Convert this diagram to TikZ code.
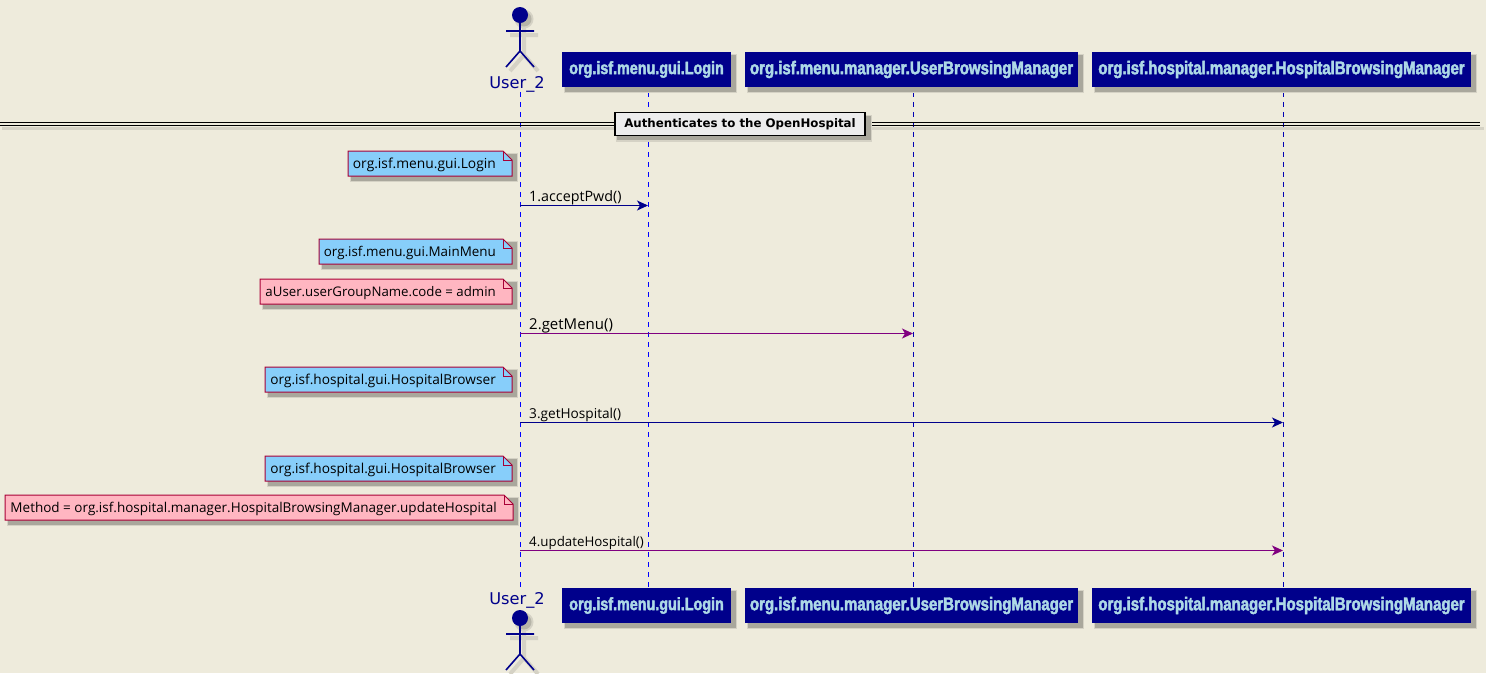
\documentclass[tikz,border=0pt]{standalone}
\usepackage{fontspec}
\setmainfont{DejaVu Sans}
\newfontfamily\headfont[FakeStretch=0.81,FakeBold=2.4]{Liberation Sans Bold}
\newfontfamily\notefont{Open Sans}
\usetikzlibrary{arrows.meta,calc}
\definecolor{bgc}{HTML}{EEEBDC}
\definecolor{navy}{HTML}{00008B}
\definecolor{headtxt}{HTML}{ADD8E6}
\definecolor{noteblue}{HTML}{87CEFA}
\definecolor{notepink}{HTML}{FFB6C1}
\definecolor{noteline}{HTML}{A80036}
\definecolor{shadowc}{HTML}{A9A79C}
\definecolor{shadowl}{HTML}{D5D2C5}
\definecolor{purp}{HTML}{800080}
\definecolor{lifedark}{HTML}{0000B4}
\tikzset{
 x=1pt,y=-1pt,
 partbox/.style={fill=navy,draw=none,minimum height=35pt,inner sep=0pt,text=headtxt,font=\headfont\fontsize{18.5}{18}\selectfont,anchor=center},
 lifeblue/.style={draw=blue,dash pattern=on 5pt off 5pt,line width=.9pt},
 lifedeep/.style={draw=lifedark,dash pattern=on 5pt off 5pt,line width=.9pt},
 msgtxt/.style={anchor=base west,inner sep=0pt,text=black},
 actortxt/.style={font=\fontsize{16.2}{16}\selectfont,text=navy,inner sep=0pt,anchor=base},
 notetxt/.style={inner sep=0pt,anchor=base east,text=black},
 msg/.style={line width=1pt,-{Stealth[length=11pt,width=10pt,inset=3pt]}},
 actorline/.style={draw=navy,line width=1.6pt},
}
\newcommand{\nf}[1]{\notefont\fontsize{#1}{14}\selectfont}
\newcommand{\softrect}[4]{% x0,y0,x1,y1 shadow of box
 \fill[shadowl] (#1+2,#2+2) rectangle (#3+6,#4+6);
 \fill[shadowc] (#1+3,#2+3) rectangle (#3+4.5,#4+4.5);
}
\newcommand{\actorfig}[2]{% x, top y of head
 \draw[shadowl,line width=4pt] (#1+4,#2+20)--(#1+4,#2+48) (#1-10,#2+28)--(#1+18,#2+28) (#1+4,#2+48)--(#1-10,#2+64) (#1+4,#2+48)--(#1+18,#2+64);
 \fill[shadowl] (#1+4,#2+12) circle (9.5);
 \fill[shadowc!70!shadowl] (#1+4,#2+12) circle (7.5);
 \fill[navy] (#1,#2+8) circle (8);
 \draw[actorline] (#1,#2+15)--(#1,#2+44) (#1-14,#2+24)--(#1+14,#2+24) (#1,#2+44)--(#1-14,#2+60) (#1,#2+44)--(#1+14,#2+60);
}
\newcommand{\headbox}[5]{% name,x0,x1,y0,text
 \softrect{#2}{#4}{#3}{#4+35}
 \node[partbox,minimum width=#3pt-#2pt] (#1) at ({(#2+#3)/2},#4+17.5) {#5};
}
\newcommand{\notebox}[7]{% name,x0,x1,y0,fill,size,text
 \softrect{#2}{#4}{#3}{#4+25}
 \draw[noteline,fill=#5,line width=1pt] (#2,#4)--(#3-9,#4)--(#3,#4+9)--(#3,#4+25)--(#2,#4+25)--cycle;
 \draw[noteline,line width=1pt] (#3-9,#4)--(#3-9,#4+9)--(#3,#4+9);
 \node[notetxt,font=\nf{#6}] (#1) at (#3-16,#4+17) {#7};
}
\begin{document}
\begin{tikzpicture}
\useasboundingbox[fill=bgc] (0,0) rectangle (1486,673);
% lifelines
\coordinate (ua) at (520,92); \coordinate (ub) at (520,590);
\coordinate (la) at (648,92); \coordinate (lb) at (648,587);
\coordinate (ma) at (913,92); \coordinate (mb) at (913,587);
\coordinate (ha) at (1283,92); \coordinate (hb) at (1283,587);
\draw[lifeblue] (ua)--(ub);
\draw[lifeblue] (la)--(lb);
\draw[lifedeep] (ma)--(mb);
\draw[lifedeep] (ha)--(hb);
% actors
\actorfig{520}{7}
\node[actortxt] (u1) at (517,88) {User\_2};
\node[actortxt] (u2) at (517,604) {User\_2};
\actorfig{520}{610}
% headers
\headbox{h1}{562}{731}{52}{\fontsize{17.7}{18}\selectfont org.isf.menu.gui.Login}
\headbox{h2}{745}{1078}{52}{org.isf.menu.manager.UserBrowsingManager}
\headbox{h3}{1092}{1471}{52}{org.isf.hospital.manager.HospitalBrowsingManager}
\headbox{f1}{562}{731}{588}{\fontsize{17.7}{18}\selectfont org.isf.menu.gui.Login}
\headbox{f2}{745}{1078}{588}{org.isf.menu.manager.UserBrowsingManager}
\headbox{f3}{1092}{1471}{588}{org.isf.hospital.manager.HospitalBrowsingManager}
% divider
\fill[shadowl] (2,127)rectangle(1484,130);
\draw[black,line width=1pt] (0,122.5)--(1480,122.5) (0,125.7)--(1480,125.7);
\softrect{614}{112.5}{866}{135.5}
\node[draw=black,line width=1.6pt,fill=black!7,minimum width=250.5pt,minimum height=23pt,inner sep=0pt,font=\fontsize{11.8}{13}\selectfont\bfseries] (sep) at (740,124) {Authenticates to the OpenHospital};
% notes
\notebox{n1}{348}{512}{151}{noteblue}{13.8}{org.isf.menu.gui.Login}
\notebox{n2}{319}{512}{239}{noteblue}{13.4}{org.isf.menu.gui.MainMenu}
\notebox{n3}{260}{512}{279}{notepink}{13.25}{aUser.userGroupName.code = admin}
\notebox{n4}{265}{512}{367}{noteblue}{13.65}{org.isf.hospital.gui.HospitalBrowser}
\notebox{n5}{265}{512}{456}{noteblue}{13.65}{org.isf.hospital.gui.HospitalBrowser}
\notebox{n6}{5}{513}{495}{notepink}{13.5}{Method = org.isf.hospital.manager.HospitalBrowsingManager.updateHospital}
% messages
\coordinate (m1a) at (520,205.5); \coordinate (m1b) at (648,205.5);
\coordinate (m2a) at (520,333.5); \coordinate (m2b) at (913,333.5);
\coordinate (m3a) at (520,422.5); \coordinate (m3b) at (1283,422.5);
\coordinate (m4a) at (520,550.5); \coordinate (m4b) at (1283,550.5);
\draw[msg,navy] (m1a)--(m1b);
\draw[msg,purp] (m2a)--(m2b);
\draw[msg,navy] (m3a)--(m3b);
\draw[msg,purp] (m4a)--(m4b);
\node[msgtxt,font=\nf{14.3}] (t1) at (529,201) {1.acceptPwd()};
\node[msgtxt,font=\nf{15}] (t2) at (529,329) {2.getMenu()};
\node[msgtxt,font=\nf{13.65}] (t3) at (529,418) {3.getHospital()};
\node[msgtxt,font=\nf{13.35}] (t4) at (529,546) {4.updateHospital()};
\end{tikzpicture}
\end{document}
